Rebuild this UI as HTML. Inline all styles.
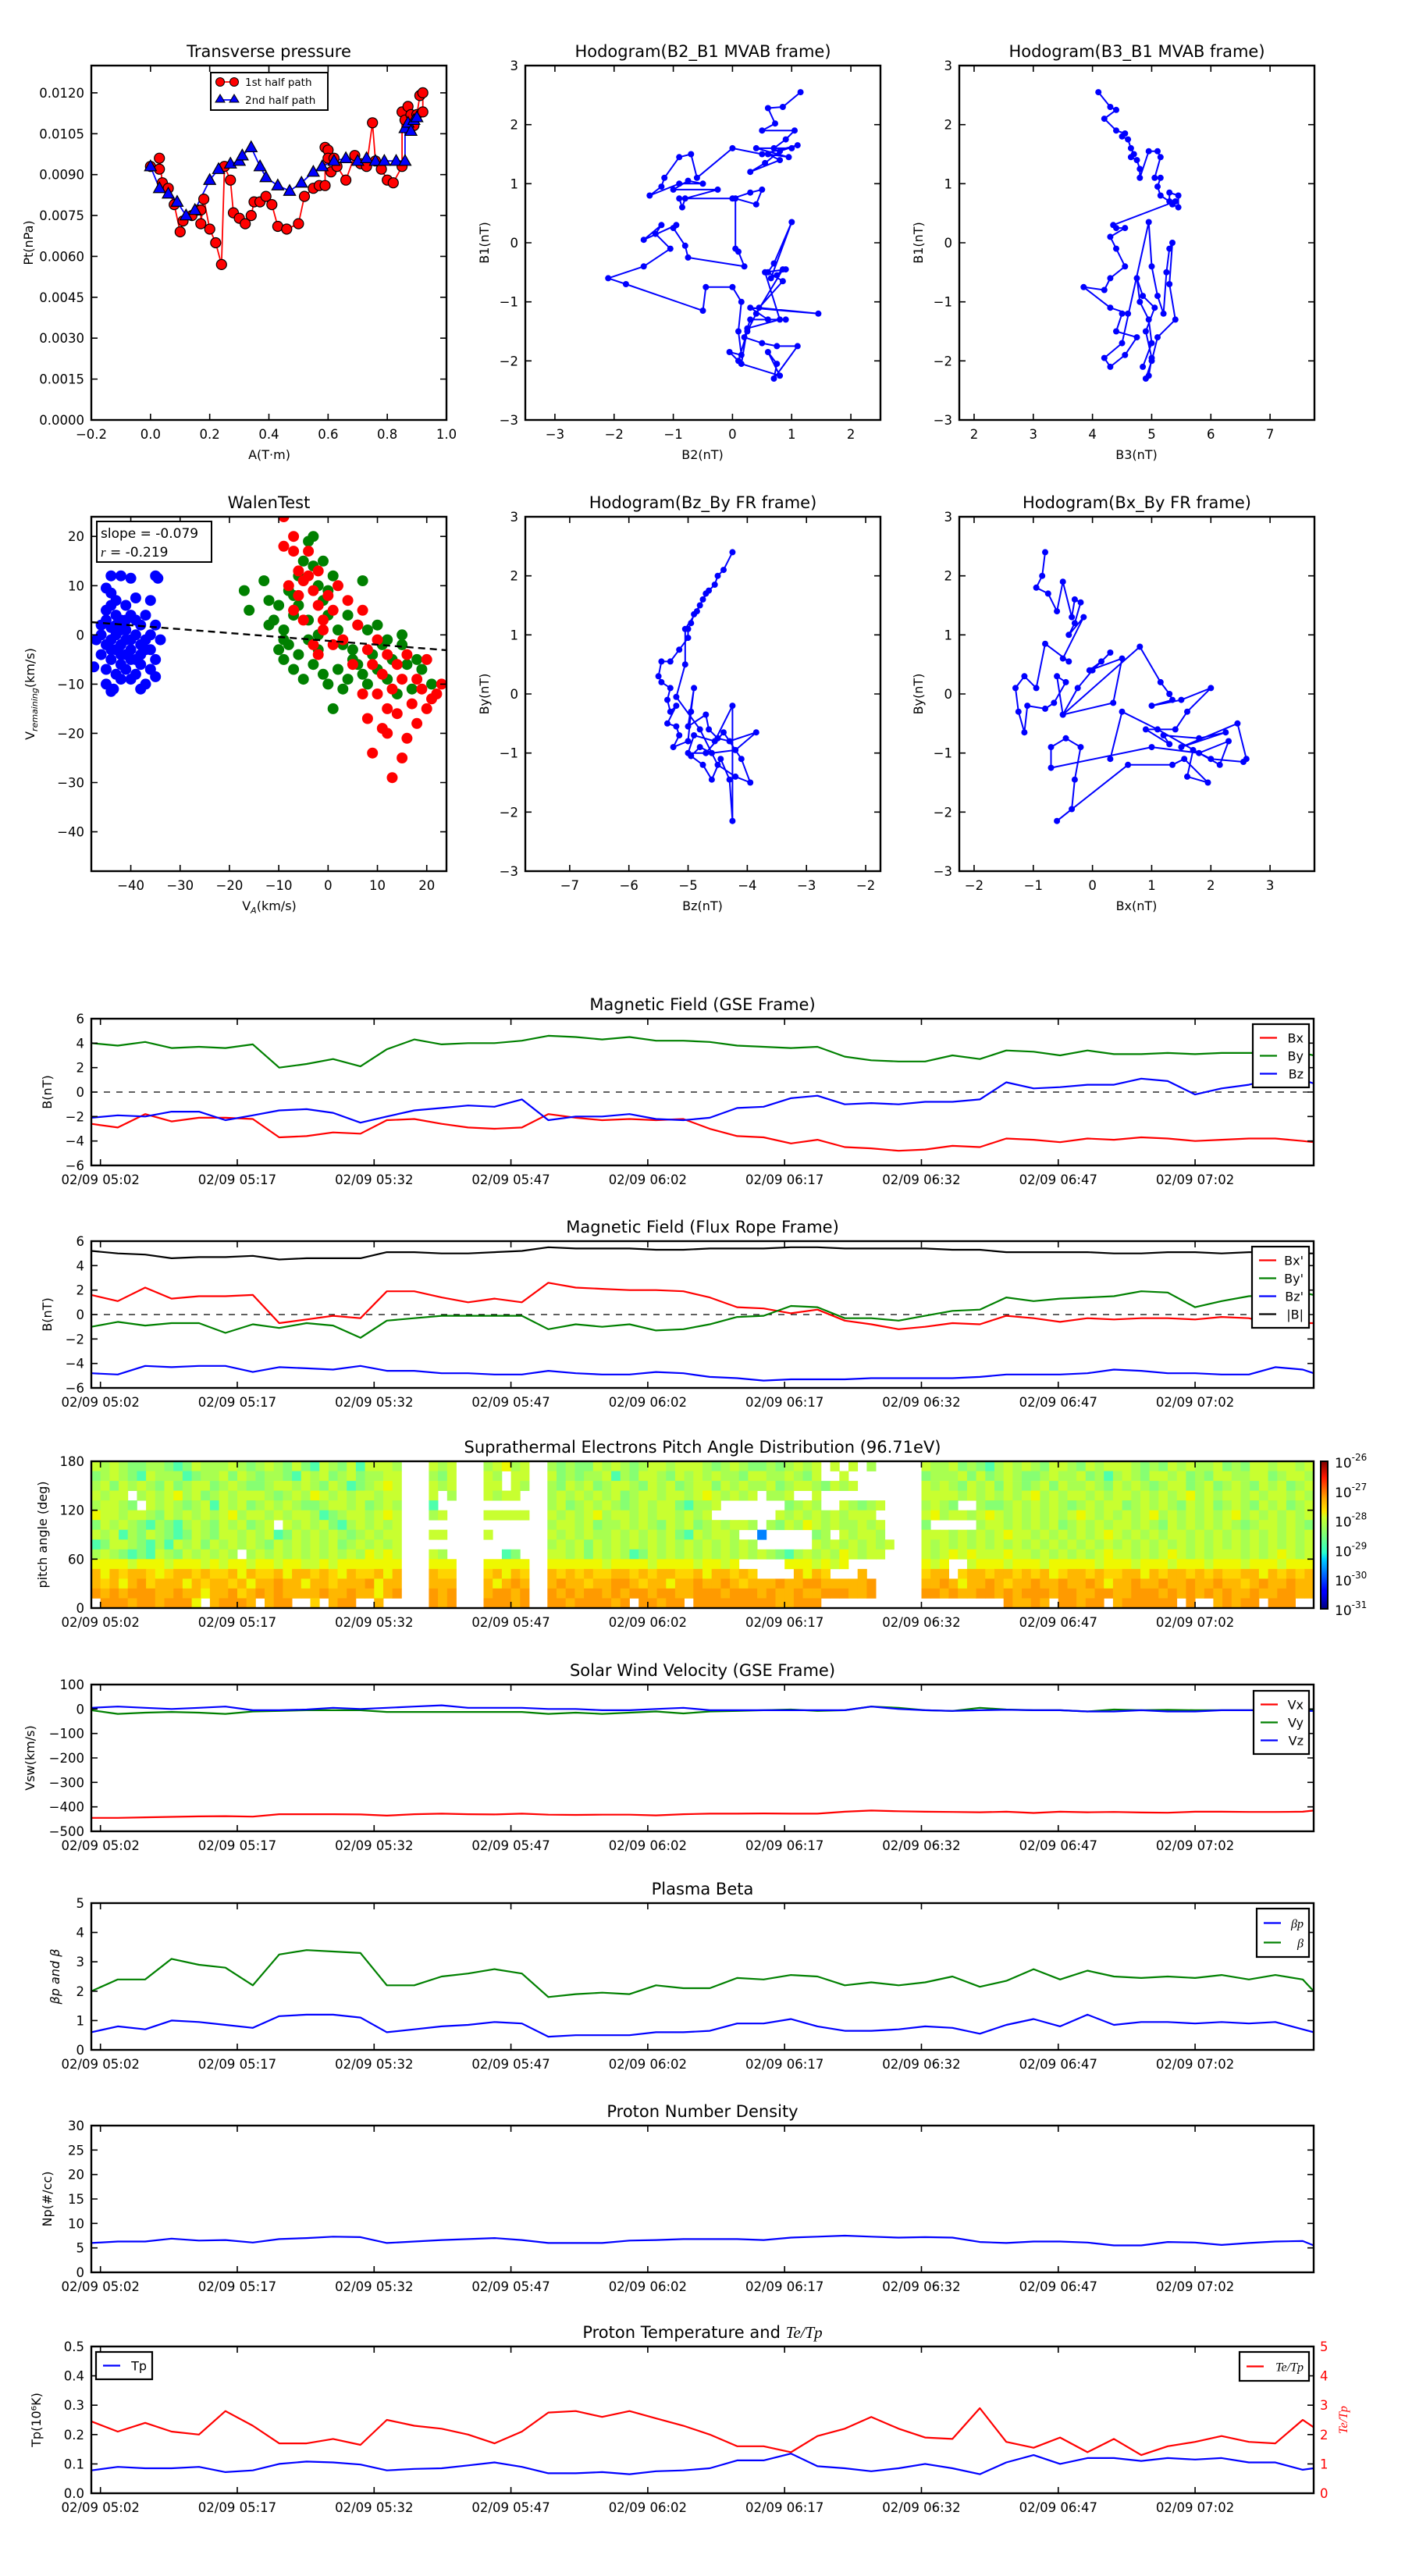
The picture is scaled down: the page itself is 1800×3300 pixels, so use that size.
<!DOCTYPE html>
<html><head><meta charset="utf-8"><title>Flux rope analysis</title>
<style>html,body{margin:0;padding:0;background:#fff}svg{display:block;font-family:"DejaVu Sans","Liberation Sans",sans-serif}</style>
</head><body>
<svg id="fig" xmlns="http://www.w3.org/2000/svg" width="1800" height="3300" viewBox="0 0 1800 3300">
<defs>
<linearGradient id="jet" x1="0" y1="1" x2="0" y2="0">
<stop offset="0" stop-color="#00007f"/><stop offset="0.11" stop-color="#0000ff"/><stop offset="0.125" stop-color="#0000ff"/><stop offset="0.34" stop-color="#00d4ff"/><stop offset="0.38" stop-color="#29ffce"/><stop offset="0.5" stop-color="#7dff7a"/><stop offset="0.62" stop-color="#ceff29"/><stop offset="0.66" stop-color="#ffe500"/><stop offset="0.75" stop-color="#ffa500"/><stop offset="0.89" stop-color="#ff1a00"/><stop offset="1" stop-color="#7f0000"/>
</linearGradient>
</defs>
<rect x="0" y="0" width="1800" height="3300" fill="#fff"/>
</svg>
<script>
// ---------------- DATA ----------------
// Transverse pressure (A, Pt)
const ptA1 = [0.0,0.03,0.03,0.04,0.06,0.08,0.10,0.11,0.14,0.16,0.17,0.17,0.18,0.20,0.22,0.24,0.25,0.27,0.28,0.30,0.32,0.34,0.35,0.37,0.39,0.41,0.43,0.46,0.50,0.52,0.55,0.57,0.59,0.59,0.60,0.60,0.61,0.62,0.63,0.66,0.69,0.71,0.73,0.75,0.76,0.78,0.80,0.82,0.85,0.85,0.86,0.87,0.88,0.89,0.90,0.91,0.92,0.92];
const ptP1 = [0.0093,0.0092,0.0096,0.0087,0.0085,0.0079,0.0069,0.0073,0.0075,0.0077,0.0077,0.0072,0.0081,0.0070,0.0065,0.0057,0.0093,0.0088,0.0076,0.0074,0.0072,0.0075,0.0080,0.0080,0.0082,0.0079,0.0071,0.0070,0.0072,0.0082,0.0085,0.0086,0.0086,0.0100,0.0099,0.0096,0.0091,0.0096,0.0093,0.0088,0.0097,0.0094,0.0093,0.0109,0.0095,0.0092,0.0088,0.0087,0.0093,0.0113,0.0110,0.0115,0.0112,0.0108,0.0112,0.0119,0.0120,0.0113];
const ptA2 = [0.0,0.03,0.06,0.09,0.12,0.15,0.20,0.23,0.27,0.30,0.31,0.34,0.37,0.39,0.43,0.47,0.51,0.55,0.58,0.62,0.66,0.70,0.73,0.76,0.79,0.83,0.86,0.86,0.87,0.88,0.89,0.90];
const ptP2 = [0.0093,0.0085,0.0083,0.0080,0.0075,0.0077,0.0088,0.0092,0.0094,0.0095,0.0097,0.0100,0.0093,0.0089,0.0086,0.0084,0.0087,0.0091,0.0093,0.0095,0.0096,0.0095,0.0096,0.0095,0.0095,0.0095,0.0095,0.0107,0.0109,0.0106,0.0110,0.0111];
// Hodogram B2-B1
const h1B2 = [1.15,0.85,0.6,0.72,0.5,1.05,0.9,0.7,1.0,0.4,0.95,0.6,0.8,0.3,0.55,0.8,1.1,0.5,0.0,-0.6,-0.7,-0.9,-1.15,-1.2,-1.4,-0.9,-0.5,-0.75,-1.0,-0.25,-0.8,-0.85,-0.9,0.0,0.3,0.5,0.4,0.05,0.05,0.1,0.2,-0.75,-0.8,-1.0,-0.95,-1.5,-1.2,-1.3,-1.05,-1.5,-2.1,-1.8,-0.5,-0.45,0.0,0.15,0.1,0.15,-0.05,0.1,0.25,0.4,0.85,0.75,0.65,1.0,0.7,0.6,0.85,0.45,1.45,0.3,0.6,0.9,0.3,0.2,0.5,0.75,1.1,0.7,0.75,0.6,0.8,0.15,0.25,0.8,0.55,0.9];
const h1B1 = [2.55,2.3,2.28,2.02,1.9,1.9,1.75,1.6,1.6,1.6,1.45,1.5,1.4,1.2,1.35,1.55,1.65,1.5,1.6,1.1,1.5,1.45,1.1,0.95,0.8,1.0,1.0,1.05,0.9,0.9,0.75,0.6,0.75,0.75,0.85,0.9,0.65,0.75,-0.1,-0.15,-0.4,-0.25,-0.05,0.25,0.3,0.05,0.3,0.15,-0.1,-0.4,-0.6,-0.7,-1.15,-0.75,-0.75,-1.0,-1.5,-1.9,-1.85,-2.0,-1.5,-1.2,-0.45,-0.55,-0.6,0.35,-0.35,-0.5,-0.65,-1.1,-1.2,-1.1,-1.3,-1.3,-1.3,-1.6,-1.7,-1.75,-1.75,-2.3,-2.05,-1.85,-2.25,-2.05,-1.45,-1.3,-0.5,-0.45];
// Hodogram B3-B1
const h2B3 = [4.1,4.3,4.4,4.2,4.4,4.55,4.5,4.6,4.65,4.7,4.65,4.75,4.8,4.8,4.95,5.1,5.15,5.05,5.15,5.1,5.15,5.3,5.3,5.45,5.45,5.35,5.4,4.35,4.4,4.55,4.3,4.4,4.55,4.3,4.2,3.85,4.3,4.6,4.5,4.4,4.75,4.55,4.3,4.2,4.5,4.95,5.0,5.1,5.2,5.25,5.3,5.35,5.3,5.4,5.1,5.0,4.9,4.95,5.0,4.9,5.05,4.85,4.75,4.8,4.95,5.0,4.85];
const h2B1 = [2.55,2.3,2.25,2.1,1.9,1.85,1.8,1.75,1.6,1.5,1.45,1.4,1.25,1.1,1.55,1.55,1.45,1.1,1.1,0.95,0.8,0.7,0.85,0.8,0.6,0.65,0.7,0.3,0.25,0.25,0.1,-0.1,-0.4,-0.6,-0.8,-0.75,-1.1,-1.2,-1.2,-1.5,-1.6,-1.9,-2.1,-1.95,-1.7,0.35,-0.4,-0.9,-1.2,-0.5,-0.1,0.0,-0.7,-1.3,-1.6,-2.0,-2.3,-2.25,-1.95,-1.5,-1.1,-0.9,-0.6,-1.0,-1.3,-1.7,-2.1];
// Walen test
const wBlueVA = [-44,-42,-40,-35,-34.5,-45,-44,-43,-41,-39,-36,-45,-43,-42,-40,-38,-37,-35,-46,-44,-43,-41,-39,-36,-34,-47,-45,-44,-42,-40,-38,-36,-35,-46,-44,-42,-40,-38,-37,-45,-43,-41,-39,-36,-35,-47.5,-45,-44,-43.5,-38,-37,-42,-41,-43,-41,-39,-44,-42,-40,-38,-43,-41,-39,-37,-46,-45,-44,-42,-40];
const wBlueVR = [12,12,11.5,12,11.5,9.5,8.5,7,6,7.5,7,5,4,3,4,2,4,2,2,1.5,0,1,0,0,-1,-1,-2,-3,-2,-3,-2,-3,-5,-4,-5,-6,-5,-6,-3,-7,-8,-7,-8,-7,-8.5,-6.5,-10,-11.5,-11,-11,-10,-4,-1,2,3,3,-1,1,-1,-4,-3,-4,-5,-1,0,3,6,-9,-9];
const wGreenVA = [-17,-16,-13,-12,-11,-10,-9,-8,-7,-7,-6,-5,-4,-3,-3,-2,-1,0,1,2,3,4,5,6,7,-10,-9,-7,-6,-5,-4,-3,-2,-1,0,1,2,3,4,5,6,7,8,9,10,11,12,13,14,15,16,17,18,19,21,8,10,12,15,-8,-6,-4,-2,-1,0,-12,-9];
const wGreenVR = [9,5,11,7,3,6,1,-2,4,8,12,15,19,20,14,10,7,4,12,1,-2,4,-5,2,11,-3,-5,-7,-4,-9,-1,-6,-3,-8,-10,-15,-7,-11,-9,-3,-6,-8,-10,-4,-7,-2,-9,-5,-12,-2,-6,-11,-5,-7,-10,1,2,-1,0,9,6,3,0,15,9,2,-1];
const wRedVA = [-9,-7,-7,-6,-5,-9,-8,-7,-6,-5,-4,-3,-2,-1,0,1,2,-1,3,4,-3,-2,6,7,8,9,10,11,12,13,14,15,16,17,18,19,20,21,22,23,8,10,11,12,13,15,9,14,16,18,20,12,-4,-2,1,5,7];
const wRedVR = [24,20,17,13,11,18,10,5,8,3,12,9,6,3,8,5,10,1,-1,7,-2,-4,2,5,-3,-6,-1,-8,-4,-11,-16,-9,-21,-14,-18,-11,-15,-13,-12,-10,-17,-12,-19,-20,-29,-25,-24,-6,-4,-9,-5,-15,17,13,-2,-6,-12];
const walenSlope = -0.079, walenIntercept = -1.2;
// Hodogram Bz-By (FR)
const h3Bz = [-4.25,-4.4,-4.5,-4.55,-4.65,-4.75,-4.8,-4.9,-4.95,-5.0,-5.0,-5.15,-5.3,-5.45,-5.5,-5.45,-5.3,-5.35,-5.3,-5.2,-5.35,-5.2,-5.15,-5.25,-5.0,-4.95,-4.9,-5.0,-4.7,-4.65,-4.5,-4.3,-3.85,-4.2,-4.6,-4.8,-4.95,-4.75,-4.6,-4.45,-4.3,-4.25,-4.25,-4.55,-4.9,-5.0,-4.7,-4.4,-4.1,-3.95,-4.2,-4.5,-4.8,-5.2,-5.05,-5.05,-4.85,-4.7];
const h3By = [2.4,2.1,2.0,1.85,1.75,1.6,1.5,1.35,1.2,1.1,0.95,0.75,0.55,0.55,0.3,0.2,0.1,-0.1,-0.3,-0.2,-0.5,-0.55,-0.7,-0.9,-0.8,-0.3,0.1,-0.55,-0.35,-0.6,-0.75,-0.8,-0.65,-0.95,-1.0,-0.9,-1.05,-1.2,-1.45,-1.1,-1.45,-2.15,-0.2,-0.8,-0.7,-1.0,-1.0,-0.65,-1.1,-1.5,-1.4,-1.2,-0.6,-0.05,0.5,1.1,1.4,1.7];
// Hodogram Bx-By (FR)
const h4Bx = [-0.8,-0.85,-0.95,-0.75,-0.6,-0.5,-0.35,-0.3,-0.2,-0.3,-0.4,-0.15,-0.5,-0.4,-0.8,-0.95,-1.15,-1.3,-1.25,-1.15,-1.1,-0.8,-0.65,-0.45,-0.6,-0.5,-0.25,0.0,0.3,0.15,-0.05,0.5,0.35,-0.5,0.8,1.15,1.3,1.35,1.0,1.5,2.0,1.6,1.4,0.9,1.3,1.2,1.8,2.25,1.5,2.45,2.6,2.55,2.0,1.7,1.6,1.95,1.55,1.35,0.6,-0.6,-0.35,-0.3,-0.2,-0.45,-0.7,-0.7,1.0,1.8,2.3,2.15,1.1,0.5,0.3];
const h4By = [2.4,2.0,1.8,1.7,1.4,1.9,1.3,1.6,1.55,1.2,1.0,1.3,0.6,0.55,0.85,0.1,0.3,0.1,-0.3,-0.65,-0.2,-0.25,-0.15,0.2,0.3,-0.35,0.1,0.4,0.7,0.55,0.4,0.6,-0.15,-0.35,0.8,0.2,0.0,-0.1,-0.2,-0.1,0.1,-0.3,-0.6,-0.6,-0.85,-0.7,-0.75,-0.65,-0.9,-0.5,-1.1,-1.15,-1.1,-0.95,-1.4,-1.5,-1.1,-1.2,-1.2,-2.15,-1.95,-1.45,-0.9,-0.75,-0.9,-1.25,-0.9,-1.0,-0.8,-1.2,-0.6,-0.3,-1.1];
// Time series (minutes after 05:00)
const tMin = [1,3.9,6.9,9.8,12.8,15.7,18.7,21.6,24.6,27.5,30.5,33.4,36.4,39.4,42.3,45.2,48.2,51.1,54.1,57.0,60.0,62.9,65.9,68.8,71.8,74.7,77.7,80.6,83.6,86.5,89.5,92.4,95.4,98.4,101.3,104.3,107.2,110.2,113.1,116.1,119.0,122.0,124.9,127.9,130.8,133.8,135];
const timeTicks = [2,17,32,47,62,77,92,107,122];
const timeTickLabels = ['02/09 05:02','02/09 05:17','02/09 05:32','02/09 05:47','02/09 06:02','02/09 06:17','02/09 06:32','02/09 06:47','02/09 07:02'];
const gseBx = [-2.6,-2.9,-1.8,-2.4,-2.1,-2.1,-2.2,-3.7,-3.6,-3.3,-3.4,-2.3,-2.2,-2.6,-2.9,-3.0,-2.9,-1.8,-2.1,-2.3,-2.2,-2.3,-2.2,-3.0,-3.6,-3.7,-4.2,-3.9,-4.5,-4.6,-4.8,-4.7,-4.4,-4.5,-3.8,-3.9,-4.1,-3.8,-3.9,-3.7,-3.8,-4.0,-3.9,-3.8,-3.8,-4.0,-4.1];
const gseBy = [4.0,3.8,4.1,3.6,3.7,3.6,3.9,2.0,2.3,2.7,2.1,3.5,4.3,3.9,4.0,4.0,4.2,4.6,4.5,4.3,4.5,4.2,4.2,4.1,3.8,3.7,3.6,3.7,2.9,2.6,2.5,2.5,3.0,2.7,3.4,3.3,3.0,3.4,3.1,3.1,3.2,3.1,3.2,3.2,3.2,3.2,3.0];
const gseBz = [-2.1,-1.9,-2.0,-1.6,-1.6,-2.3,-1.9,-1.5,-1.4,-1.7,-2.5,-2.0,-1.5,-1.3,-1.1,-1.2,-0.6,-2.3,-2.0,-2.0,-1.8,-2.2,-2.3,-2.1,-1.3,-1.2,-0.5,-0.3,-1.0,-0.9,-1.0,-0.8,-0.8,-0.6,0.8,0.3,0.4,0.6,0.6,1.1,0.9,-0.2,0.3,0.6,1.1,1.0,0.7];
const frBx = [1.6,1.1,2.2,1.3,1.5,1.5,1.6,-0.7,-0.4,-0.1,-0.3,1.9,1.9,1.4,1.0,1.3,1.0,2.6,2.2,2.1,2.0,2.0,1.9,1.4,0.6,0.5,0.1,0.4,-0.5,-0.8,-1.2,-1.0,-0.7,-0.8,-0.1,-0.3,-0.6,-0.3,-0.4,-0.3,-0.3,-0.4,-0.2,-0.3,-0.8,-0.7,-0.7];
const frBy = [-1.0,-0.6,-0.9,-0.7,-0.7,-1.5,-0.8,-1.1,-0.7,-0.9,-1.9,-0.5,-0.3,-0.1,-0.1,-0.1,-0.1,-1.2,-0.8,-1.0,-0.8,-1.3,-1.2,-0.8,-0.2,-0.1,0.7,0.6,-0.3,-0.3,-0.5,-0.1,0.3,0.4,1.4,1.1,1.3,1.4,1.5,1.9,1.8,0.6,1.1,1.5,1.6,1.8,1.6];
const frBz = [-4.8,-4.9,-4.2,-4.3,-4.2,-4.2,-4.7,-4.3,-4.4,-4.5,-4.2,-4.6,-4.6,-4.8,-4.8,-4.9,-4.9,-4.6,-4.8,-4.9,-4.9,-4.7,-4.8,-5.1,-5.2,-5.4,-5.3,-5.3,-5.3,-5.2,-5.2,-5.2,-5.2,-5.1,-4.9,-4.9,-4.9,-4.8,-4.5,-4.6,-4.8,-4.8,-4.9,-4.9,-4.3,-4.5,-4.8];
const frBt = [5.2,5.0,4.9,4.6,4.7,4.7,4.8,4.5,4.6,4.6,4.6,5.1,5.1,5.0,5.0,5.1,5.2,5.5,5.4,5.4,5.4,5.3,5.3,5.4,5.4,5.4,5.5,5.5,5.4,5.4,5.4,5.4,5.3,5.3,5.1,5.1,5.1,5.1,5.0,5.0,5.1,5.1,5.0,5.1,5.1,5.0,5.0];
const vswVx = [-445,-445,-443,-441,-439,-438,-440,-430,-430,-430,-431,-436,-430,-428,-430,-431,-428,-432,-433,-432,-432,-435,-430,-428,-428,-427,-428,-428,-420,-415,-418,-420,-421,-422,-420,-425,-420,-422,-421,-423,-424,-420,-420,-421,-421,-420,-415];
const vswVy = [-5,-20,-15,-12,-15,-20,-10,-8,-5,-5,-5,-12,-12,-12,-12,-12,-12,-20,-15,-20,-15,-10,-18,-10,-8,-5,-2,-8,-5,10,5,-5,-8,5,-2,-5,-5,-10,-2,-5,-3,-5,-5,-5,-5,-5,-5];
const vswVz = [5,10,5,0,5,10,-5,-5,-2,5,0,5,10,15,5,5,5,0,0,-5,-5,0,5,-5,-5,-5,-5,-5,-5,10,0,-5,-8,-5,-3,-5,-5,-10,-10,-5,-10,-10,-5,-5,-5,-8,-8];
const betaP = [0.6,0.8,0.7,1.0,0.95,0.85,0.75,1.15,1.2,1.2,1.1,0.6,0.7,0.8,0.85,0.95,0.9,0.45,0.5,0.5,0.5,0.6,0.6,0.65,0.9,0.9,1.05,0.8,0.65,0.65,0.7,0.8,0.75,0.55,0.85,1.05,0.8,1.2,0.85,0.95,0.95,0.9,0.95,0.9,0.95,0.7,0.6];
const betaTot = [2.0,2.4,2.4,3.1,2.9,2.8,2.2,3.25,3.4,3.35,3.3,2.2,2.2,2.5,2.6,2.75,2.6,1.8,1.9,1.95,1.9,2.2,2.1,2.1,2.45,2.4,2.55,2.5,2.2,2.3,2.2,2.3,2.5,2.15,2.35,2.75,2.4,2.7,2.5,2.45,2.5,2.45,2.55,2.4,2.55,2.4,2.0];
const densNp = [6.0,6.3,6.3,6.9,6.5,6.6,6.1,6.8,7.0,7.3,7.2,6.0,6.3,6.6,6.8,7.0,6.6,6.0,6.0,6.0,6.5,6.6,6.8,6.8,6.8,6.6,7.1,7.3,7.5,7.3,7.1,7.2,7.1,6.2,6.0,6.3,6.3,6.1,5.5,5.5,6.2,6.1,5.6,6.0,6.3,6.4,5.5];
const tempTp = [0.078,0.09,0.085,0.085,0.09,0.072,0.078,0.1,0.108,0.105,0.098,0.078,0.083,0.085,0.095,0.105,0.09,0.068,0.068,0.072,0.065,0.075,0.078,0.085,0.112,0.112,0.135,0.092,0.085,0.075,0.085,0.1,0.085,0.065,0.105,0.13,0.1,0.12,0.12,0.11,0.12,0.115,0.12,0.105,0.105,0.08,0.085];
const tempRatio = [2.45,2.1,2.4,2.1,2.0,2.8,2.3,1.7,1.7,1.85,1.65,2.5,2.3,2.2,2.0,1.7,2.1,2.75,2.8,2.6,2.8,2.55,2.3,2.0,1.6,1.6,1.4,1.95,2.2,2.6,2.2,1.9,1.85,2.9,1.75,1.55,1.9,1.4,1.85,1.3,1.6,1.75,1.95,1.75,1.7,2.5,2.25];
// Pitch angle distribution: 15 bins of 12 deg (top row = 168-180), columns of 1 minute from 05:01; '|' separates data blocks, '.' = no data
const padBlockStart = [0,37,43,50,91];
const padBlockLen = [34,3,5,38,44];
const padRows = [
"lglgmmggmcmlggglgmglgmlmclgmlclllg|lgl|glYgl|gmgmmlglgmgllglllgmglgmmgmglgl.l.l.g|lgglmgmcglglgmllgmlglllgmgmlglgglmgmllgllglg",
"mglgmclgggcmgglmlgmggmclglmglmggll|gml|lg.ll|lmgmgglcgmllgmlglglggmllgglgml..l....|mggglmlmglgmmglgglmgcglgmllglmgmllggllmgllgl",
"glmlglgmlmgllmglgmmgllglgmlgcmglYl|lgl|ll.lg|gmlglmgllgmlglmgllmlglgglmgllgmlgl....|lglgmlglmlgmglmlgglgmlglgmgllmglmglgmlglmglg",
"lgll.glglYglmglglllgmglgYlglgllgll|l.g|lgll.|glglglglmgllgllglYlglgl.ggl..l.......|llllglglglglYglgllglgllglglglYglgllglgllglgl",
"gllgm.lglgmglclglmglglgmmgllglmglg|c..|.....|glmglglgmglgllmcggl.......mglg..lgmgl|glgm..gmmglglglgmglgllmglglgmlglmglgmlglmglgm",
"YllgllgmlglglglYgllglgllgcmgllglYl|gl.|lllll|lglglYgllglgllglgl.......lglglglglll|lYgllglYlglglglglYlglglglYglglglglYglglglglgl",
"mlglgmcgmcglgmlglmgl.lglglmcglglgl|...|.....|gllglmgglglgmlglmglgllg.gmlgYlglgglgl|m.....gllglglglmglglgllglgmlglglglgmgllglgmll",
"lglcgmlgmcmlgmllglglcmlglglgmglgll|ll.|l....|lglglgglglglglmclgllg..B.....mg.lgllg|lllglglglYllglglglglYlglglgllglglglglglglglgl",
"cmllgmcgclglmlglglgmlglglglmglglgl|...|.....|glglmlglglglglglglglglg......lglglglgl|lglglglglglglglglglglglglglglglglglglglglglg",
"glgmcmclgmlglglg.glglglglglglgYlYl|lg.|..cm.|llglmlglgcmlglglglglglglgmcglglgYlgll|lglYlYlllYllglglglglYllglglYlglglllglglYlglgl",
"YYYYlYYYlYYYlYlYYlYYlYYllYlYYYYYYY|YYY|YYYYY|YYYYYYlYYYYlYYYYlYYlY.....YYYlYlY..|YlY..lYYYlYYYlYYYYYlYYYlYYYlYYYlYYYlYYYlYYYY",
"aYayaayYyaayayyaYayyaYaayayYayyaYa|ayy|yaYay|ayayayyaayayaayyaYaayay....aYay...a.|yaa.yaayaayayaYyaayayyaaYayaayayayyaaYayayaay",
"ayaYaoyaaaYayaayaYaaoaaYaayaaaoYaa|aaa|aYaoa|aoaayaaooayaaYaaoaaoayaaaoaaooaaaaao|aaoaYaaoayaaoaaoaaoaYaaoaaoaaoaaoaayaoaaoaao",
"oaoaoooaaoaaYaaoyaoaoaaaaoaaoaaYao|oao|aooao|oaoaooaoaooaooaaoooaoooaoaaoaaoooaao|ooaoaaooaoaoooaooaaooaaoooaoaoaoaoaaoaaooaao",
".oooaooaoooY.aoooa.aoo..y.aoo..a..|oao|oooao|ooaooooao.ooaoo.oooooooooaaooo.....|.........oaaoa.ooaoo.aoooooo.o..aoaoo.ooo..."
];
const padColors = {o:'#ff9a00',a:'#ffb700',y:'#ffd400',Y:'#eef800',l:'#c8ff30',g:'#a8ff50',m:'#86ff72',c:'#4effac',B:'#0082ff'};

// ---------------- DRAWING ----------------
const NS = 'http://www.w3.org/2000/svg';
const svg = document.getElementById('fig');
const FONT = '"DejaVu Sans","Liberation Sans",sans-serif';
let clipCount = 0;
function mk(tag, attrs, parent) {
  const e = document.createElementNS(NS, tag);
  for (const k in attrs) e.setAttribute(k, attrs[k]);
  (parent || svg).appendChild(e);
  return e;
}
function label(parent, x, y, s, size, anchor, name, extra) {
  const e = mk('text', Object.assign({x: x, y: y, 'font-size': size, 'text-anchor': anchor, 'font-family': FONT, fill: '#000'}, extra || {}), parent);
  e.textContent = s;
  
  
  return e;
}
function axes(name, x0, y0, w, h, xd, yd) {
  const g = mk('g', {});
  
  
  const id = 'clip' + (clipCount++);
  const cp = mk('clipPath', {id: id}, g);
  mk('rect', {x: x0, y: y0, width: w, height: h}, cp);
  const plot = mk('g', {'clip-path': 'url(#' + id + ')'}, g);
  
  
  return {g: g, plot: plot, x0: x0, y0: y0, w: w, h: h,
    sx: v => x0 + (v - xd[0]) / (xd[1] - xd[0]) * w,
    sy: v => y0 + h - (v - yd[0]) / (yd[1] - yd[0]) * h};
}
function frame(ax) {
  const r = mk('rect', {x: ax.x0, y: ax.y0, width: ax.w, height: ax.h, fill: 'none', stroke: '#000', 'stroke-width': 2.4}, ax.g);
  
  
}
function xticks(ax, vals, labels, size) {
  vals.forEach((v, i) => {
    const x = ax.sx(v);
    const t = mk('path', {d: 'M' + x + ' ' + (ax.y0 + ax.h) + 'v-8M' + x + ' ' + ax.y0 + 'v8', stroke: '#000', 'stroke-width': 1.6}, ax.g);
    
    
    label(ax.g, x, ax.y0 + ax.h + 24, labels[i], size || 16.5, 'middle', 'x-tick-label');
  });
}
function yticks(ax, vals, labels, size, right, color) {
  vals.forEach((v, i) => {
    const y = ax.sy(v);
    const t = mk('path', {d: 'M' + ax.x0 + ' ' + y + 'h8M' + (ax.x0 + ax.w) + ' ' + y + 'h-8', stroke: '#000', 'stroke-width': 1.6}, ax.g);
    
    
    if (right) label(ax.g, ax.x0 + ax.w + 8, y + 6, labels[i], size || 16.5, 'start', 'right-y-tick-label', {fill: color || '#000'});
    else label(ax.g, ax.x0 - 9, y + 6, labels[i], size || 16.5, 'end', 'y-tick-label');
  });
}
function ylab(ax, x, s, name) {
  const cy = ax.y0 + ax.h / 2;
  return label(ax.g, x, cy, s, 16, 'middle', name, {transform: 'rotate(-90 ' + x + ' ' + cy + ')'});
}
function title(ax, s, name) { return label(ax.g, ax.x0 + ax.w / 2, ax.y0 - 11, s, 21, 'middle', name); }
function line(ax, xs, ys, color, name, width, dash) {
  const n = Math.min(xs.length, ys.length);
  let d = '';
  for (let i = 0; i < n; i++) d += (i ? 'L' : 'M') + ax.sx(xs[i]).toFixed(1) + ' ' + ax.sy(ys[i]).toFixed(1);
  const p = mk('path', {d: d, fill: 'none', stroke: color, 'stroke-width': width || 2.2, 'stroke-linejoin': 'round'}, ax.plot);
  if (dash) p.setAttribute('stroke-dasharray', dash);
  
  
  return p;
}
function dots(ax, xs, ys, color, r, name, stroke) {
  const g = mk('g', {}, ax.plot);
  
  
  const n = Math.min(xs.length, ys.length);
  for (let i = 0; i < n; i++) {
    const c = mk('circle', {cx: ax.sx(xs[i]).toFixed(1), cy: ax.sy(ys[i]).toFixed(1), r: r, fill: color}, g);
    if (stroke) { c.setAttribute('stroke', stroke); c.setAttribute('stroke-width', 1.2); }
    
    
  }
}
function tris(ax, xs, ys, color, r, name) {
  const g = mk('g', {}, ax.plot);
  
  
  for (let i = 0; i < Math.min(xs.length, ys.length); i++) {
    const x = ax.sx(xs[i]), y = ax.sy(ys[i]);
    const p = mk('path', {d: 'M' + x + ' ' + (y - r) + 'L' + (x + r * 0.95) + ' ' + (y + r * 0.7) + 'L' + (x - r * 0.95) + ' ' + (y + r * 0.7) + 'Z', fill: color, stroke: '#000', 'stroke-width': 1.2}, g);
    
    
  }
}
function legend(ax, x, y, w, entries, name) {
  const g = mk('g', {}, ax.g);
  
  
  const rh = entries.rowH || 23;
  const h = entries.items.length * rh + 12;
  mk('rect', {x: x, y: y, width: w, height: h, fill: '#fff', stroke: '#000', 'stroke-width': 2.2}, g);
  entries.items.forEach((en, i) => {
    const cy = y + 6 + rh * (i + 0.5);
    const ln = mk('path', {d: 'M' + (x + 9) + ' ' + cy + 'h22', stroke: en.color, 'stroke-width': 2.2}, g);
    
    
    const t = label(g, x + w - 7, cy + 6, en.text, 16, 'end', 'legend-entry', en.italic ? {'font-style': 'italic', 'font-family': '"Liberation Serif",serif'} : {});
  });
  return g;
}
function range(a, b, s) { const r = []; for (let v = a; v <= b + 1e-9; v += s) r.push(+v.toFixed(6)); return r; }

// ---- Row 1: transverse pressure ----
(function () {
  const ax = axes('transverse-pressure-chart', 117, 84, 455, 454, [-0.2, 1.0], [0, 0.013]);
  line(ax, ptA1, ptP1, '#ff0000', 'first-half-path-line', 1.8);
  line(ax, ptA2, ptP2, '#0000ff', 'second-half-path-line', 1.8);
  dots(ax, ptA1, ptP1, '#ff0000', 6.5, 'first-half-path', '#000');
  tris(ax, ptA2, ptP2, '#0000ff', 8, 'second-half-path');
  frame(ax);
  const xv = range(-0.2, 1.0, 0.2);
  xticks(ax, xv, xv.map(v => v.toFixed(1).replace('-', '\u2212')));
  const yv = range(0, 0.012, 0.0015);
  yticks(ax, yv, yv.map(v => v.toFixed(4)));
  title(ax, 'Transverse pressure', 'transverse-pressure-title');
  label(ax.g, 345, 588, 'A(T\u00b7m)', 16, 'middle', 'x-axis-title');
  ylab(ax, 42, 'Pt(nPa)', 'y-axis-title');
  const lg = mk('g', {}, ax.g);
  
  
  mk('rect', {x: 270, y: 93, width: 150, height: 48, fill: '#fff', stroke: '#000', 'stroke-width': 2}, lg);
  mk('path', {d: 'M279 105h24', stroke: '#f00', 'stroke-width': 1.8}, lg);
  mk('circle', {cx: 282, cy: 105, r: 5.5, fill: '#f00', stroke: '#000'}, lg);
  mk('circle', {cx: 300, cy: 105, r: 5.5, fill: '#f00', stroke: '#000'}, lg);
  label(lg, 314, 110, '1st half path', 13.5, 'start', 'legend-entry');
  mk('path', {d: 'M279 128h24', stroke: '#00f', 'stroke-width': 1.8}, lg);
  mk('path', {d: 'M282 121l6 10h-12z M300 121l6 10h-12z', fill: '#00f', stroke: '#000'}, lg);
  label(lg, 314, 133, '2nd half path', 13.5, 'start', 'legend-entry');
})();
function hodo(name, x0, y0, xd, yd, xs, ys, xtv, tl, xl, yl, ylx) {
  const ax = axes(name, x0, y0, 455, 454, xd, yd);
  line(ax, xs, ys, '#0000ff', name + '-path', 2);
  dots(ax, xs, ys, '#0000ff', 4, name + '-samples');
  frame(ax);
  xticks(ax, xtv, xtv.map(v => String(v).replace('-', '\u2212')));
  const yv = range(-3, 3, 1);
  yticks(ax, yv, yv.map(v => String(v).replace('-', '\u2212')));
  title(ax, tl, name + '-title');
  label(ax.g, x0 + 227, y0 + 504, xl, 16, 'middle', 'x-axis-title');
  ylab(ax, ylx, yl, 'y-axis-title');
  return ax;
}
hodo('hodogram-b2-b1', 673, 84, [-3.5, 2.5], [-3, 3], h1B2, h1B1, range(-3, 2, 1), 'Hodogram(B2_B1 MVAB frame)', 'B2(nT)', 'B1(nT)', 626);
hodo('hodogram-b3-b1', 1229, 84, [1.75, 7.75], [-3, 3], h2B3, h2B1, range(2, 7, 1), 'Hodogram(B3_B1 MVAB frame)', 'B3(nT)', 'B1(nT)', 1182);

// ---- Row 2: Walen ----
(function () {
  const ax = axes('walen-test-chart', 117, 662, 455, 454, [-48, 24], [-48, 24]);
  dots(ax, wBlueVA, wBlueVR, '#0000ff', 7, 'walen-blue-points');
  dots(ax, wGreenVA, wGreenVR, '#008000', 7, 'walen-green-points');
  dots(ax, wRedVA, wRedVR, '#ff0000', 7, 'walen-red-points');
  line(ax, [-48, 24], [-48 * walenSlope + walenIntercept, 24 * walenSlope + walenIntercept], '#000', 'walen-fit-line', 2.4, '9,6');
  frame(ax);
  const xv = range(-40, 20, 10);
  xticks(ax, xv, xv.map(v => String(v).replace('-', '\u2212')));
  const yv = range(-40, 20, 10);
  yticks(ax, yv, yv.map(v => String(v).replace('-', '\u2212')));
  title(ax, 'WalenTest', 'walen-test-title');
  const xl = label(ax.g, 345, 1166, 'V', 16, 'middle', 'x-axis-title');
  const s1 = mk('tspan', {'font-size': 11, 'font-style': 'italic', dy: 4}, xl); s1.textContent = 'A';
  const s2 = mk('tspan', {dy: -4}, xl); s2.textContent = '(km/s)';
  const cy = 889;
  const yl = label(ax.g, 44, cy, 'V', 16, 'middle', 'y-axis-title', {transform: 'rotate(-90 44 ' + cy + ')'});
  const s3 = mk('tspan', {'font-size': 11, 'font-style': 'italic', dy: 4}, yl); s3.textContent = 'remaining';
  const s4 = mk('tspan', {dy: -4}, yl); s4.textContent = '(km/s)';
  const bx = mk('g', {}, ax.g);
  
  
  mk('rect', {x: 124, y: 668, width: 147, height: 52, fill: '#fff', stroke: '#000', 'stroke-width': 2}, bx);
  label(bx, 129, 689, 'slope = -0.079', 17, 'start', 'slope-text');
  const rt = label(bx, 129, 713, '', 17, 'start', 'r-text');
  const ri = mk('tspan', {'font-style': 'italic', 'font-family': '"Liberation Serif",serif'}, rt); ri.textContent = 'r';
  const rr = mk('tspan', {}, rt); rr.textContent = ' = -0.219';
})();
hodo('hodogram-bz-by', 673, 662, [-7.75, -1.75], [-3, 3], h3Bz, h3By, range(-7, -2, 1), 'Hodogram(Bz_By FR frame)', 'Bz(nT)', 'By(nT)', 626);
hodo('hodogram-bx-by', 1229, 662, [-2.25, 3.75], [-3, 3], h4Bx, h4By, range(-2, 3, 1), 'Hodogram(Bx_By FR frame)', 'Bx(nT)', 'By(nT)', 1182);

// ---- Time series ----
const TX0 = 117, TW = 1566, TD = [1, 135];
function tsAxes(name, y0, yd) { return axes(name, TX0, y0, TW, 188, TD, yd); }
function tsFinish(ax, yv, ylabels, tl, name) {
  frame(ax);
  xticks(ax, timeTicks, timeTickLabels);
  yticks(ax, yv, ylabels);
  title(ax, tl, name + '-title');
}
const minus = v => String(v).replace('-', '\u2212');
// GSE
(function () {
  const ax = tsAxes('magnetic-field-gse-chart', 1305, [-6, 6]);
  line(ax, TD, [0, 0], '#000', 'zero-line', 1.3, '8,8');
  line(ax, tMin, gseBx, '#ff0000', 'series-bx');
  line(ax, tMin, gseBy, '#008000', 'series-by');
  line(ax, tMin, gseBz, '#0000ff', 'series-bz');
  const yv = range(-6, 6, 2);
  tsFinish(ax, yv, yv.map(minus), 'Magnetic Field (GSE Frame)', 'magnetic-field-gse');
  ylab(ax, 66, 'B(nT)', 'y-axis-title');
  legend(ax, 1605, 1312, 72, {items: [{color: '#f00', text: 'Bx'}, {color: '#008000', text: 'By'}, {color: '#00f', text: 'Bz'}]}, 'gse-legend');
})();
// Flux rope
(function () {
  const ax = tsAxes('magnetic-field-flux-rope-chart', 1590, [-6, 6]);
  line(ax, TD, [0, 0], '#000', 'zero-line', 1.3, '8,8');
  line(ax, tMin, frBx, '#ff0000', 'series-bx-prime');
  line(ax, tMin, frBy, '#008000', 'series-by-prime');
  line(ax, tMin, frBz, '#0000ff', 'series-bz-prime');
  line(ax, tMin, frBt, '#000000', 'series-btotal');
  const yv = range(-6, 6, 2);
  tsFinish(ax, yv, yv.map(minus), 'Magnetic Field (Flux Rope Frame)', 'magnetic-field-flux-rope');
  ylab(ax, 66, 'B(nT)', 'y-axis-title');
  legend(ax, 1604, 1597, 73, {rowH: 23, items: [{color: '#f00', text: "Bx'"}, {color: '#008000', text: "By'"}, {color: '#00f', text: "Bz'"}, {color: '#000', text: '|B|'}]}, 'flux-rope-legend');
})();
// PAD
(function () {
  const ax = tsAxes('pitch-angle-distribution-chart', 1872, [0, 180]);
  const nRows = padRows.length, bin = 180 / nRows;
  padRows.forEach((row, r) => {
    const blocks = row.split('|');
    blocks.forEach((blk, b) => {
      for (let k = 0; k < padBlockLen[b]; k++) {
        const ch = blk[k];
        if (!ch || !padColors[ch]) continue;
        const c = padBlockStart[b] + k;
        const x1 = ax.sx(1 + c), x2 = ax.sx(2 + c);
        const yTop = ax.sy(180 - bin * r), yBot = ax.sy(180 - bin * (r + 1));
        const cell = mk('rect', {x: x1.toFixed(1), y: yTop.toFixed(1), width: (x2 - x1 + 0.4).toFixed(1), height: (yBot - yTop + 0.4).toFixed(1), fill: padColors[ch]}, ax.plot);
        
        
      }
    });
  });
  tsFinish(ax, [0, 60, 120, 180], ['0', '60', '120', '180'], 'Suprathermal Electrons Pitch Angle Distribution (96.71eV)', 'pitch-angle');
  ylab(ax, 60, 'pitch angle (deg)', 'y-axis-title');
  const cb = mk('g', {});
  
  
  mk('rect', {x: 1692, y: 1872, width: 9, height: 189, fill: 'url(#jet)', stroke: '#000', 'stroke-width': 2}, cb);
  const exps = ['-26', '-27', '-28', '-29', '-30', '-31'];
  exps.forEach((e, i) => {
    const y = 1872 + i * 189 / 5;
    const t = label(cb, 1710, y + 8, '10', 17, 'start', 'colorbar-tick-label');
    const sp = mk('tspan', {'font-size': 12, dy: -9}, t); sp.textContent = e;
  });
})();
// Vsw
(function () {
  const ax = tsAxes('solar-wind-velocity-chart', 2158, [-500, 100]);
  line(ax, tMin, vswVx, '#ff0000', 'series-vx');
  line(ax, tMin, vswVy, '#008000', 'series-vy');
  line(ax, tMin, vswVz, '#0000ff', 'series-vz');
  const yv = range(-500, 100, 100);
  tsFinish(ax, yv, yv.map(minus), 'Solar Wind Velocity (GSE Frame)', 'solar-wind-velocity');
  ylab(ax, 44, 'Vsw(km/s)', 'y-axis-title');
  legend(ax, 1606, 2166, 71, {items: [{color: '#f00', text: 'Vx'}, {color: '#008000', text: 'Vy'}, {color: '#00f', text: 'Vz'}]}, 'velocity-legend');
})();
// Beta
(function () {
  const ax = tsAxes('plasma-beta-chart', 2438, [0, 5]);
  line(ax, tMin, betaP, '#0000ff', 'series-beta-p');
  line(ax, tMin, betaTot, '#008000', 'series-beta');
  const yv = range(0, 5, 1);
  tsFinish(ax, yv, yv.map(String), 'Plasma Beta', 'plasma-beta');
  const cy = 2532;
  label(ax.g, 76, cy, '\u03b2p and \u03b2', 16, 'middle', 'y-axis-title', {transform: 'rotate(-90 76 ' + cy + ')', 'font-style': 'italic'});
  legend(ax, 1610, 2445, 67, {rowH: 25, items: [{color: '#00f', text: '\u03b2p', italic: true}, {color: '#008000', text: '\u03b2', italic: true}]}, 'beta-legend');
})();
// Density
(function () {
  const ax = tsAxes('proton-density-chart', 2723, [0, 30]);
  line(ax, tMin, densNp, '#0000ff', 'series-np');
  const yv = range(0, 30, 5);
  tsFinish(ax, yv, yv.map(String), 'Proton Number Density', 'proton-density');
  ylab(ax, 66, 'Np(#/cc)', 'y-axis-title');
})();
// Temperature
(function () {
  const ax = tsAxes('proton-temperature-chart', 3006, [0, 0.5]);
  const ax2 = {g: ax.g, plot: ax.plot, x0: ax.x0, y0: ax.y0, w: ax.w, h: ax.h, sx: ax.sx, sy: v => ax.y0 + ax.h - v / 5 * ax.h};
  line(ax, tMin, tempTp, '#0000ff', 'series-tp');
  line(ax2, tMin, tempRatio, '#ff0000', 'series-te-tp-ratio');
  frame(ax);
  xticks(ax, timeTicks, timeTickLabels);
  const yv = range(0, 0.5, 0.1);
  yv.forEach((v, i) => { label(ax.g, ax.x0 - 9, ax.sy(v) + 6, v.toFixed(1), 16.5, 'end', 'y-tick-label'); });
  const yv2 = range(0, 5, 1);
  yv2.forEach(v => {
    const y = ax2.sy(v);
    const t = mk('path', {d: 'M' + ax.x0 + ' ' + y + 'h8M' + (ax.x0 + ax.w) + ' ' + y + 'h-8', stroke: '#000', 'stroke-width': 1.6}, ax.g);
    
    
    label(ax.g, ax.x0 + ax.w + 8, y + 6, String(v), 16.5, 'start', 'right-y-tick-label', {fill: '#ff0000'});
  });
  const tt = label(ax.g, 900, 2995, 'Proton Temperature and ', 21, 'middle', 'proton-temperature-title');
  const ts = mk('tspan', {'font-style': 'italic', 'font-family': '"Liberation Serif",serif'}, tt); ts.textContent = 'Te/Tp';
  const cy = 3100;
  label(ax.g, 52, cy, 'Tp(10\u2076K)', 16, 'middle', 'y-axis-title', {transform: 'rotate(-90 52 ' + cy + ')'});
  label(ax.g, 1726, cy, 'Te/Tp', 16, 'middle', 'right-y-axis-title', {transform: 'rotate(-90 1726 ' + cy + ')', fill: '#ff0000', 'font-style': 'italic', 'font-family': '"Liberation Serif",serif'});
  legend(ax, 123, 3013, 72, {rowH: 23, items: [{color: '#00f', text: 'Tp'}]}, 'tp-legend');
  legend(ax, 1588, 3013, 89, {rowH: 25, items: [{color: '#f00', text: 'Te/Tp', italic: true}]}, 'te-tp-legend');
})();
</script>
</body></html>
